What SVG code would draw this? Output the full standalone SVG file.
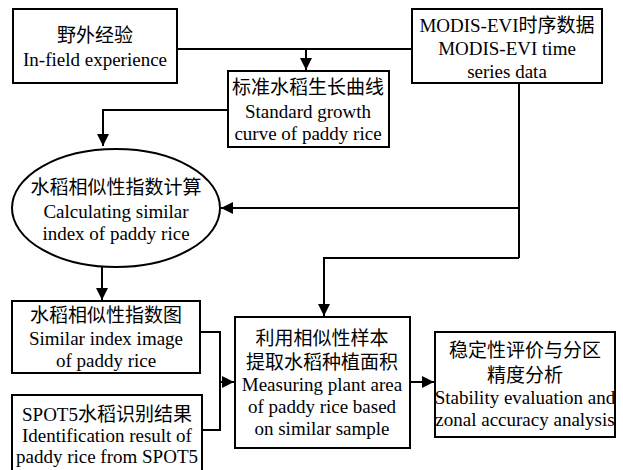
<svg xmlns="http://www.w3.org/2000/svg" width="623" height="470" viewBox="0 0 623 470">
<defs>
<marker id="ah" viewBox="0 0 10 10" refX="10" refY="5" markerWidth="12" markerHeight="12" markerUnits="userSpaceOnUse" orient="auto">
<path d="M0,0 L10,5 L0,10 z" fill="#000"/>
</marker>
<style>
.box{fill:#fff;stroke:#000;stroke-width:2}
.ln{fill:none;stroke:#000;stroke-width:2}
text{font-family:"Liberation Serif","Noto Sans CJK SC",serif;font-size:19px;fill:#000;text-anchor:middle}
</style>
</defs>
<rect width="623" height="470" fill="#fff"/>
<g id="connectors">
<path class="ln" d="M177,49 H412"/>
<path class="ln" d="M306,49 V70" marker-end="url(#ah)"/>
<path class="ln" d="M228,110 H103 V146" marker-end="url(#ah)"/>
<path class="ln" d="M519,83 V258"/>
<path class="ln" d="M519,208 H221" marker-end="url(#ah)"/>
<path class="ln" d="M519,258 H324 V316" marker-end="url(#ah)"/>
<path class="ln" d="M102,267 V300" marker-end="url(#ah)"/>
<path class="ln" d="M200,332 H220 V430 H202"/>
<path class="ln" d="M220,382 H234" marker-end="url(#ah)"/>
<path class="ln" d="M410,382 H434" marker-end="url(#ah)"/>
</g>
<g id="n1">
<rect class="box" x="13" y="9" width="164" height="74"/>
<text x="95" y="42">野外经验</text>
<text x="95" y="66">In-field experience</text>
</g>
<g id="n2">
<rect class="box" x="228" y="71" width="161" height="76"/>
<text x="308" y="94">标准水稻生长曲线</text>
<text x="308" y="118">Standard growth</text>
<text x="308" y="140">curve of paddy rice</text>
</g>
<g id="n3">
<rect class="box" x="412" y="9" width="190" height="74"/>
<text x="507" y="32">MODIS-EVI时序数据</text>
<text x="507" y="55">MODIS-EVI time</text>
<text x="507" y="78">series data</text>
</g>
<g id="n4">
<ellipse class="box" cx="116" cy="208" rx="104" ry="59"/>
<text x="116" y="194">水稻相似性指数计算</text>
<text x="116" y="218">Calculating similar</text>
<text x="116" y="240">index of paddy rice</text>
</g>
<g id="n5">
<rect class="box" x="12" y="301" width="188" height="72"/>
<text x="106" y="322">水稻相似性指数图</text>
<text x="106" y="345">Similar index image</text>
<text x="106" y="367">of paddy rice</text>
</g>
<g id="n6">
<rect class="box" x="12" y="395" width="190" height="80"/>
<text x="107" y="421">SPOT5水稻识别结果</text>
<text x="107" y="442">Identification result of</text>
<text x="107" y="463">paddy rice from SPOT5</text>
</g>
<g id="n7">
<rect class="box" x="235" y="317" width="175" height="131"/>
<text x="322" y="345">利用相似性样本</text>
<text x="322" y="369">提取水稻种植面积</text>
<text x="322" y="391">Measuring plant area</text>
<text x="322" y="413">of paddy rice based</text>
<text x="322" y="435">on similar sample</text>
</g>
<g id="n8">
<rect class="box" x="435" y="332" width="180" height="105"/>
<text x="525" y="357">稳定性评价与分区</text>
<text x="525" y="382">精度分析</text>
<text x="525" y="404">Stability evaluation and</text>
<text x="525" y="426">zonal accuracy analysis</text>
</g>
</svg>
